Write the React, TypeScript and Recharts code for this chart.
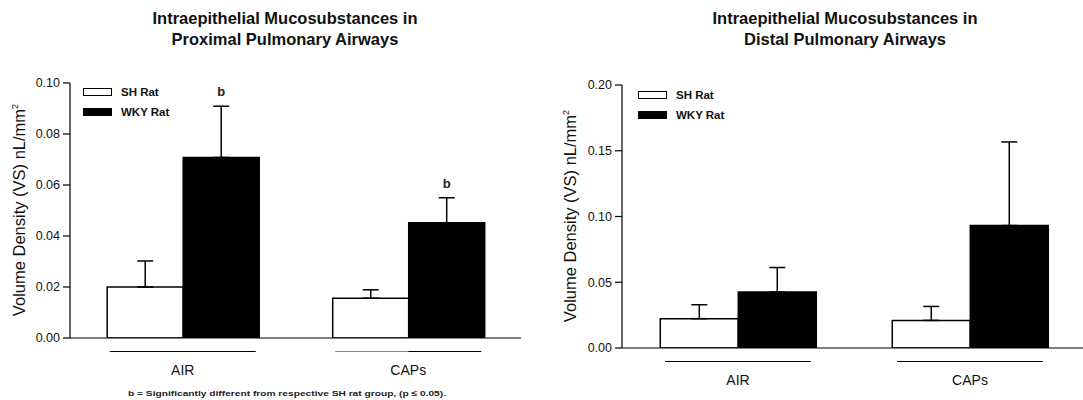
import { BarChart, Bar, XAxis, YAxis, ErrorBar, Legend, LabelList } from 'recharts'

const categories = ['AIR', 'CAPs']

const proximalSH = [0.02, 0.0156]
const proximalSHErr = [0.0102, 0.0033]
const proximalWKY = [0.0708, 0.0452]
const proximalWKYErr = [0.0201, 0.0098]
const proximalSig = ['b', 'b']

const distalSH = [0.0223, 0.021]
const distalSHErr = [0.0106, 0.0106]
const distalWKY = [0.0425, 0.0931]
const distalWKYErr = [0.0187, 0.0636]
const distalSig = ['', '']

const proximalTicks = [0, 0.02, 0.04, 0.06, 0.08, 0.1]
const distalTicks = [0, 0.05, 0.1, 0.15, 0.2]

const FONT = '"Liberation Sans", Arial, sans-serif'

const buildRows = (sh: number[], shErr: number[], wky: number[], wkyErr: number[]) =>
  categories.map((name, i) => ({
    name,
    sh: sh[i],
    shErr: [0, shErr[i]],
    wky: wky[i],
    wkyErr: [0, wkyErr[i]],
  }))

function LegendBox() {
  const items = [
    { label: 'SH Rat', fill: '#fff' },
    { label: 'WKY Rat', fill: '#000' },
  ]
  return (
    <div style={{ fontFamily: FONT, fontSize: 11.5, fontWeight: 'bold', color: '#111' }}>
      {items.map((it) => (
        <div key={it.label} style={{ display: 'flex', alignItems: 'center', height: 20 }}>
          <div
            style={{
              width: 27,
              height: 6,
              background: it.fill,
              border: '1.5px solid #000',
              marginRight: 9,
            }}
          />
          <span>{it.label}</span>
        </div>
      ))}
    </div>
  )
}

function CategoryTick(props: any) {
  const { x, y, payload, grayFirst } = props
  const half = 73
  const ly = y + 13.5
  return (
    <g>
      {grayFirst && payload.index === 1 ? (
        <>
          <line x1={x - half} x2={x} y1={ly} y2={ly} stroke="#888" strokeWidth={1.2} />
          <line x1={x} x2={x + half} y1={ly} y2={ly} stroke="#000" strokeWidth={1.2} />
        </>
      ) : (
        <line x1={x - half} x2={x + half} y1={ly} y2={ly} stroke="#000" strokeWidth={1.2} />
      )}
      <text x={x} y={y + 37} textAnchor="middle" fontFamily={FONT} fontSize={14} fill="#111">
        {payload.value}
      </text>
    </g>
  )
}

function makeSigLabel(sig: string[], errs: number[]) {
  return (props: any) => {
    const { x, y, width, height, value, index } = props
    const text = sig[index]
    if (!text) return null
    const errPx = (height / value) * errs[index]
    return (
      <text
        x={x + width / 2}
        y={y - errPx - 10}
        textAnchor="middle"
        fontFamily={FONT}
        fontSize={13}
        fontWeight="bold"
        fill="#222"
      >
        {text}
      </text>
    )
  }
}

interface PanelProps {
  left: number
  width: number
  marginTop: number
  marginBottom: number
  marginLeft: number
  marginRight: number
  domainMax: number
  ticks: number[]
  rows: ReturnType<typeof buildRows>
  sig: string[]
  wkyErr: number[]
  grayFirst?: boolean
  legendLeft: number
  legendTop: number
}

function Panel(p: PanelProps) {
  return (
    <div style={{ position: 'absolute', left: p.left, top: 0 }}>
      <BarChart
        width={p.width}
        height={400}
        data={p.rows}
        barCategoryGap="16.5%"
        barGap={0}
        margin={{ top: p.marginTop, bottom: p.marginBottom, left: p.marginLeft, right: p.marginRight }}
      >
        <XAxis
          dataKey="name"
          height={50}
          axisLine={{ stroke: '#000', strokeWidth: 1.2 }}
          tickLine={false}
          tickSize={0}
          tickMargin={0}
          interval={0}
          tick={<CategoryTick grayFirst={p.grayFirst} />}
        />
        <YAxis
          width={60}
          domain={[0, p.domainMax]}
          ticks={p.ticks}
          tickFormatter={(v: number) => v.toFixed(2)}
          axisLine={{ stroke: '#000', strokeWidth: 1.2 }}
          tickLine={{ stroke: '#000', strokeWidth: 1.2 }}
          tickSize={7}
          tickMargin={3}
          tick={{ fontFamily: FONT, fontSize: 12.5, fill: '#111' }}
          allowDataOverflow
        />
        <Legend
          layout="vertical"
          align="center"
          verticalAlign="middle"
          wrapperStyle={{ left: p.legendLeft, top: p.legendTop, width: 'auto', height: 'auto' }}
          content={<LegendBox />}
        />
        <Bar dataKey="sh" name="SH Rat" fill="#fff" stroke="#000" strokeWidth={1.5} isAnimationActive={false}>
          <ErrorBar dataKey="shErr" width={8} stroke="#000" strokeWidth={1.5} direction="y" />
        </Bar>
        <Bar dataKey="wky" name="WKY Rat" fill="#000" stroke="#000" strokeWidth={1.5} isAnimationActive={false}>
          <ErrorBar dataKey="wkyErr" width={8} stroke="#000" strokeWidth={1.5} direction="y" />
          <LabelList dataKey="wky" content={makeSigLabel(p.sig, p.wkyErr)} />
        </Bar>
      </BarChart>
    </div>
  )
}

const titleStyle: React.CSSProperties = {
  position: 'absolute',
  top: 8,
  fontFamily: FONT,
  fontSize: 16.5,
  fontWeight: 'bold',
  color: '#111',
  textAlign: 'center',
  lineHeight: '21px',
  transform: 'translateX(-50%)',
  whiteSpace: 'nowrap',
}

const yLabelStyle: React.CSSProperties = {
  position: 'absolute',
  fontFamily: FONT,
  fontSize: 16.5,
  color: '#111',
  whiteSpace: 'nowrap',
  transform: 'translate(-50%, -50%) rotate(-90deg)',
}

export default function App() {
  const proximalRows = buildRows(proximalSH, proximalSHErr, proximalWKY, proximalWKYErr)
  const distalRows = buildRows(distalSH, distalSHErr, distalWKY, distalWKYErr)
  return (
    <div
      style={{
        position: 'fixed',
        left: 0,
        top: 0,
        width: 1083,
        height: 400,
        overflow: 'hidden',
        background: '#fff',
      }}
    >
      <div style={{ ...titleStyle, left: 285 }}>
        Intraepithelial Mucosubstances in
        <br />
        Proximal Pulmonary Airways
      </div>
      <div style={{ ...titleStyle, left: 845 }}>
        Intraepithelial Mucosubstances in
        <br />
        Distal Pulmonary Airways
      </div>

      <Panel
        left={0}
        width={541}
        marginTop={83}
        marginBottom={12}
        marginLeft={10}
        marginRight={20}
        domainMax={0.1}
        ticks={proximalTicks}
        rows={proximalRows}
        sig={proximalSig}
        wkyErr={proximalWKYErr}
        grayFirst
        legendLeft={83}
        legendTop={82}
      />
      <Panel
        left={541}
        width={545}
        marginTop={85}
        marginBottom={2}
        marginLeft={21}
        marginRight={0}
        domainMax={0.2}
        ticks={distalTicks}
        rows={distalRows}
        sig={distalSig}
        wkyErr={distalWKYErr}
        legendLeft={97}
        legendTop={85}
      />

      <div style={{ ...yLabelStyle, left: 19, top: 210 }}>
        Volume Density (VS) nL/mm<sup style={{ fontSize: 9 }}>2</sup>
      </div>
      <div style={{ ...yLabelStyle, left: 570, top: 216 }}>
        Volume Density (VS) nL/mm<sup style={{ fontSize: 9 }}>2</sup>
      </div>

      <svg style={{ position: 'absolute', left: 0, top: 0 }} width={1083} height={400}>
        <text
          x={128}
          y={396}
          textLength={318}
          lengthAdjust="spacingAndGlyphs"
          fontFamily={FONT}
          fontSize={8}
          fontWeight="bold"
          fill="#222"
        >
          b = Significantly different from respective SH rat group, (p ≤ 0.05).
        </text>
      </svg>
    </div>
  )
}
